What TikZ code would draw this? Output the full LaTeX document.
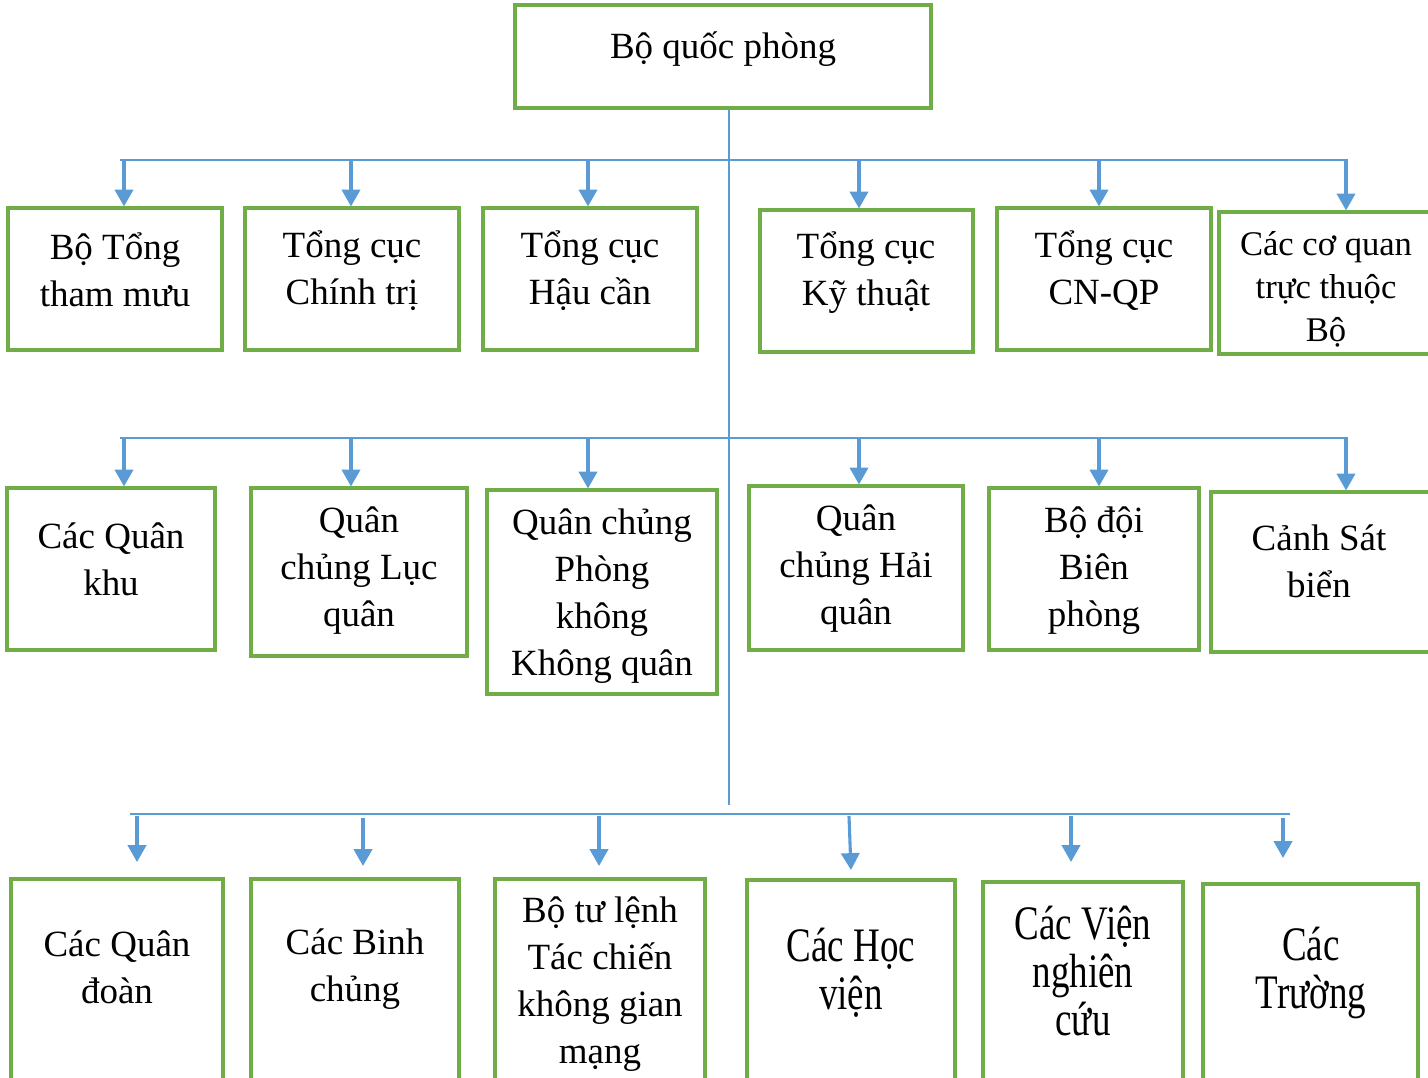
\documentclass[tikz,border=0pt]{standalone}
\usepackage{fontspec}
\setmainfont{Liberation Serif}
\usetikzlibrary{arrows.meta}
\usetikzlibrary{fit}

\definecolor{boxgreen}{RGB}{112,173,71}
\definecolor{linkblue}{RGB}{91,155,213}

\begin{document}
\begin{tikzpicture}[x=0.025cm, y=-0.025cm,
        box/.style={draw=boxgreen, line width=2.2pt, inner sep=0pt},
        bus/.style={draw=linkblue, line width=1pt},
        arr/.style={draw=linkblue, line width=2.2pt, -{Triangle[width=13pt, length=12pt]}},
        txt/.style={align=center, font=\fontsize{26.3}{33.4}\selectfont},
        smalltxt/.style={align=center, font=\fontsize{24.6}{30.6}\selectfont},
        talltxt/.style={align=center, yscale=1.3, transform shape, font=\fontsize{26.3}{26}\selectfont}]
        \useasboundingbox (0,0) rectangle (1428,1078);

        % top box
        \node[box, fit={(515,5) (931,108)}] (bqp) {};
        \node[txt] (bqptext) at (723,49) {Bộ quốc phòng};

        % first row
        \node[box, fit={(8,208) (222,350)}] (tmu) {};
        \node[box, fit={(245,208) (459,350)}] (ctr) {};
        \node[box, fit={(483,208) (697,350)}] (hcn) {};
        \node[box, fit={(760,210) (973,352)}] (kth) {};
        \node[box, fit={(997,208) (1211,350)}] (cnqp) {};
        \node[box, fit={(1219,212) (1440,354)}] (cqtb) {};

        \node[txt] (tmutext) at (115,270) {Bộ Tổng\\tham mưu};
        \node[txt] (ctrtext) at (352,271) {Tổng cục\\Chính trị};
        \node[txt] (hcntext) at (590,271) {Tổng cục\\Hậu cần};
        \node[txt] (kthtext) at (866,273) {Tổng cục\\Kỹ thuật};
        \node[txt] (cnqptext) at (1104,271) {Tổng cục\\CN-QP};
        \node[smalltxt] (cqtbtext) at (1326,289) {Các cơ quan\\trực thuộc\\Bộ};

        % second row
        \node[box, fit={(7,488) (215,650)}] (qkh) {};
        \node[box, fit={(251,488) (467,656)}] (lqu) {};
        \node[box, fit={(487,490) (717,694)}] (pkkq) {};
        \node[box, fit={(749,486) (963,650)}] (hqu) {};
        \node[box, fit={(989,488) (1199,650)}] (bdbp) {};
        \node[box, fit={(1211,492) (1440,652)}] (csb) {};

        \node[txt] (qkhtext) at (111,559) {Các Quân\\khu};
        \node[txt] (lqutext) at (359,571) {Quân\\chủng Lục\\quân};
        \node[txt] (pkkqtext) at (602,596) {Quân chủng\\Phòng\\không\\Không quân};
        \node[txt] (hqutext) at (856,569) {Quân\\chủng Hải\\quân};
        \node[txt] (bdbptext) at (1094,571) {Bộ đội\\Biên\\phòng};
        \node[txt] (csbtext) at (1319,561) {Cảnh Sát\\biển};

        % third row
        \node[box, fit={(11,879) (223,1090)}] (qdo) {};
        \node[box, fit={(251,879) (459,1090)}] (bch) {};
        \node[box, fit={(495,879) (705,1090)}] (tckg) {};
        \node[box, fit={(747,880) (955,1090)}] (hvi) {};
        \node[box, fit={(983,882) (1183,1090)}] (vnc) {};
        \node[box, fit={(1203,884) (1418,1090)}] (tru) {};

        \node[txt] (qdotext) at (117,967) {Các Quân\\đoàn};
        \node[txt] (bchtext) at (355,969) {Các Binh\\chủng};
        \node[txt] (tckgtext) at (600,984) {Bộ tư lệnh\\Tác chiến\\không gian\\mạng};
        \node[talltxt] (hvitext) at (851,973) {Các Học\\viện};
        \node[talltxt] (vnctext) at (1083,971) {Các Viện\\nghiên\\cứu};
        \node[talltxt] (trutext) at (1311,973) {Các\\Trường};

        % trunk and buses
        \coordinate (trunkend) at (729,805);
        \draw[bus] (bqp.south -| trunkend) -- (trunkend);

        \coordinate (bus1l) at (120,160);
        \coordinate (bus1r) at (1348,160);
        \coordinate (bus2l) at (120,438);
        \coordinate (bus2r) at (1348,438);
        \coordinate (bus3l) at (130,814);
        \coordinate (bus3r) at (1290,814);
        \draw[bus] (bus1l) -- (bus1r);
        \draw[bus] (bus2l) -- (bus2r);
        \draw[bus] (bus3l) -- (bus3r);

        % arrows, first row
        \coordinate (a11) at (124,160);
        \coordinate (a12) at (351,160);
        \coordinate (a13) at (588,160);
        \coordinate (a14) at (859,160);
        \coordinate (a15) at (1099,160);
        \coordinate (a16) at (1346,160);
        \draw[arr] (a11) -- (a11 |- tmu.north);
        \draw[arr] (a12) -- (a12 |- ctr.north);
        \draw[arr] (a13) -- (a13 |- hcn.north);
        \draw[arr] (a14) -- (a14 |- kth.north);
        \draw[arr] (a15) -- (a15 |- cnqp.north);
        \draw[arr] (a16) -- (a16 |- cqtb.north);

        % arrows, second row
        \coordinate (a21) at (124,438);
        \coordinate (a22) at (351,438);
        \coordinate (a23) at (588,438);
        \coordinate (a24) at (859,438);
        \coordinate (a25) at (1099,438);
        \coordinate (a26) at (1346,438);
        \draw[arr] (a21) -- (a21 |- qkh.north);
        \draw[arr] (a22) -- (a22 |- lqu.north);
        \draw[arr] (a23) -- (a23 |- pkkq.north);
        \draw[arr] (a24) -- (a24 |- hqu.north);
        \draw[arr] (a25) -- (a25 |- bdbp.north);
        \draw[arr] (a26) -- (a26 |- csb.north);

        % arrows, third row (they stop short of the boxes)
        \draw[arr] (137,816) -- (137,862);
        \draw[arr] (363,818) -- (363,866);
        \draw[arr] (599,816) -- (599,866);
        \draw[arr] (849,816) -- (851,870);
        \draw[arr] (1071,816) -- (1071,862);
        \draw[arr] (1283,818) -- (1283,858);
\end{tikzpicture}
\end{document}
